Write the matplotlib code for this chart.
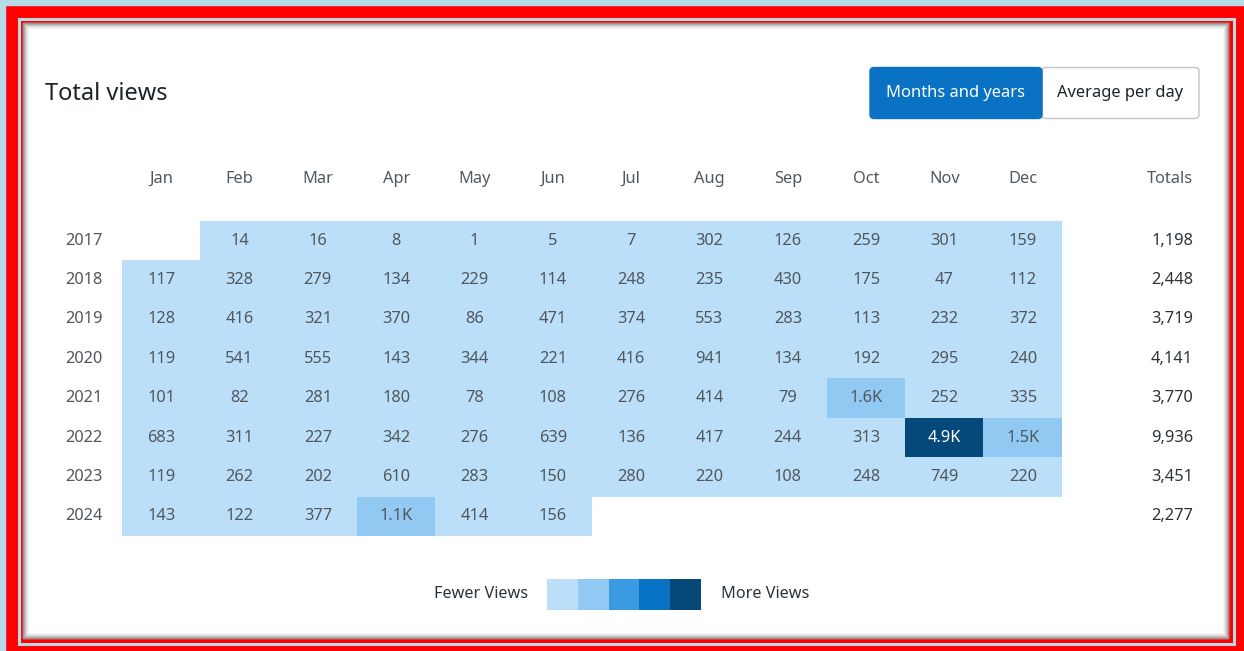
import numpy as np
import matplotlib.pyplot as plt
from matplotlib.colors import ListedColormap, BoundaryNorm
from matplotlib.patches import Rectangle, FancyBboxPatch

plt.rcParams['font.family'] = ['Noto Sans', 'DejaVu Sans']

months = ["Jan", "Feb", "Mar", "Apr", "May", "Jun",
          "Jul", "Aug", "Sep", "Oct", "Nov", "Dec"]
years = ["2017", "2018", "2019", "2020", "2021", "2022", "2023", "2024"]

nan = np.nan
views_2017 = [nan, 14, 16, 8, 1, 5, 7, 302, 126, 259, 301, 159]
views_2018 = [117, 328, 279, 134, 229, 114, 248, 235, 430, 175, 47, 112]
views_2019 = [128, 416, 321, 370, 86, 471, 374, 553, 283, 113, 232, 372]
views_2020 = [119, 541, 555, 143, 344, 221, 416, 941, 134, 192, 295, 240]
views_2021 = [101, 82, 281, 180, 78, 108, 276, 414, 79, 1584, 252, 335]
views_2022 = [683, 311, 227, 342, 276, 639, 136, 417, 244, 313, 4880, 1468]
views_2023 = [119, 262, 202, 610, 283, 150, 280, 220, 108, 248, 749, 220]
views_2024 = [143, 122, 377, 1065, 414, 156, nan, nan, nan, nan, nan, nan]

shades = ['#bbdff9', '#91c9f2', '#3a9be2', '#0873c4', '#05497a']

W, H = 1244, 651
FS = 11.8

views = np.array([views_2017, views_2018, views_2019, views_2020,
                  views_2021, views_2022, views_2023, views_2024], dtype=float)
totals = np.nansum(views, axis=1)

vmax = np.nanmax(views)
bounds = np.linspace(0, vmax, 6)
bounds[-1] = vmax + 1
cmap = ListedColormap(shades)
cmap.set_bad((1, 1, 1, 0))
norm = BoundaryNorm(bounds, cmap.N)


def fmt(v):
    if v >= 1000:
        return f"{v / 1000:.1f}K"
    return f"{int(v)}"


fig = plt.figure(figsize=(W / 100, H / 100), dpi=100)

# background / frame in pixel coords
bg = fig.add_axes([0, 0, 1, 1])
bg.set_xlim(0, W)
bg.set_ylim(H, 0)
bg.axis('off')
bg.add_patch(Rectangle((0, 0), W, H, color='#ff0000'))
bg.add_patch(Rectangle((0, 0), W, 5, color='#b4dbe5'))
bg.add_patch(Rectangle((0, 0), 5, H, color='#b4dbe5'))
bg.add_patch(Rectangle((18.5, 18.5), 1215, 625, fill=False, ec='#b4dbe5', lw=2.2))
bg.add_patch(Rectangle((23, 23), 1205, 615, color='white'))
for k, a in enumerate([0.6, 0.4, 0.26, 0.16, 0.09, 0.04]):
    g = (0.35, 0.35, 0.35, a)
    bg.add_patch(Rectangle((23 + k, 23 + k), 1205 - 2 * k, 615 - 2 * k,
                           fill=False, ec=g, lw=1))

bg.text(45, 94, "Total views", fontsize=17, color='#1d2327', va='center', ha='left')

bg.add_patch(FancyBboxPatch((1042, 67.5), 157, 51, boxstyle="round,pad=0,rounding_size=4",
                            fc='white', ec='#c3c4c7', lw=1))
bg.add_patch(FancyBboxPatch((870, 67.5), 172, 51, boxstyle="round,pad=0,rounding_size=4",
                            fc='#0a72c2', ec='#0a72c2', lw=1))
bg.text(956, 93, "Months and years", fontsize=11.9, color='white', ha='center', va='center')
bg.text(1120, 93, "Average per day", fontsize=11.9, color='#1d2327', ha='center', va='center')

bg.text(528, 594, "Fewer Views", fontsize=11.7, color='#2c3338', ha='right', va='center')
bg.text(721, 594, "More Views", fontsize=11.7, color='#2c3338', ha='left', va='center')

# heatmap
x0, x1, y0, y1 = 122, 1062, 221, 536
ax = fig.add_axes([x0 / W, 1 - y1 / H, (x1 - x0) / W, (y1 - y0) / H])
ax.imshow(views, cmap=cmap, norm=norm, aspect='auto',
          extent=(-0.5, 11.5, 7.5, -0.5), interpolation='nearest')
ax.set_xlim(-0.5, 11.5)
ax.set_ylim(7.5, -0.5)
ax.axis('off')

cw = (x1 - x0) / 12
rh = (y1 - y0) / 8

for r in range(len(years)):
    for c in range(len(months)):
        v = views[r, c]
        if np.isnan(v):
            continue
        col = 'white' if norm(v) >= 3 else '#50575e'
        ax.text(c, r, fmt(v), ha='center', va='center', fontsize=FS, color=col)
    ax.text(-0.5 + (84 - x0) / cw, r, years[r], ha='center', va='center',
            fontsize=FS, color='#50575e', clip_on=False)
    ax.text(-0.5 + (1193 - x0) / cw, r, f"{int(totals[r]):,}", ha='right', va='center',
            fontsize=FS, color='#2c3338', clip_on=False)

hy = -0.5 + (179 - y0) / rh
for c, m in enumerate(months):
    ax.text(c, hy, m, ha='center', va='center', fontsize=FS, color='#50575e', clip_on=False)
ax.text(-0.5 + (1193 - x0) / cw, hy, "Totals", ha='right', va='center',
        fontsize=FS, color='#50575e', clip_on=False)

# legend
lx0, lx1, ly0, ly1 = 547, 701, 579, 610
lax = fig.add_axes([lx0 / W, 1 - ly1 / H, (lx1 - lx0) / W, (ly1 - ly0) / H])
lax.imshow(np.arange(len(shades))[None, :], cmap=cmap, aspect='auto', interpolation='nearest')
lax.axis('off')

fig.savefig("out.png", dpi=100)
